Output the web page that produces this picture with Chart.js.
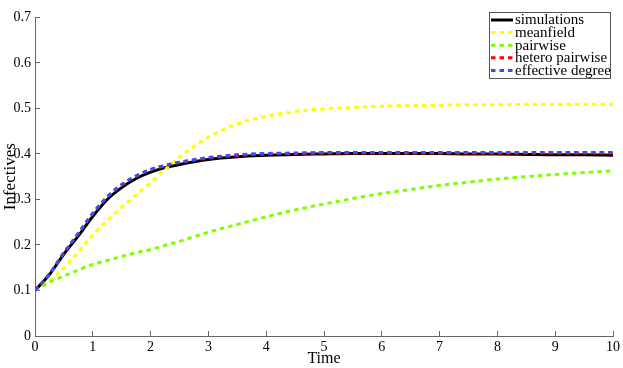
<!DOCTYPE html>
<html>
<head>
<meta charset="utf-8">
<script src="https://cdn.jsdelivr.net/npm/chart.js@4.4.0/dist/chart.umd.min.js"></script>
<style>
    html, body { margin: 0; padding: 0; background: #fff; }
    #wrap { width: 623px; height: 368px; }
</style>
</head>
<body>
<div id="wrap"><canvas id="myChart" width="623" height="368"></canvas></div>
<script>
// data
const times = [0, 0.25, 0.5, 0.75, 1, 1.25, 1.5, 1.75, 2, 2.25, 2.5, 3, 3.5, 4, 4.5, 5, 5.5, 6, 6.5, 7, 7.5, 8, 8.5, 9, 9.5, 10];
const simulations = [0.1, 0.135, 0.18, 0.22, 0.263, 0.3, 0.326, 0.346, 0.36, 0.37, 0.377, 0.388, 0.394, 0.397, 0.399, 0.4, 0.401, 0.401, 0.401, 0.401, 0.4, 0.4, 0.399, 0.398, 0.398, 0.397];
const meanfield = [0.1, 0.122, 0.15, 0.185, 0.222, 0.254, 0.283, 0.31, 0.337, 0.366, 0.393, 0.437, 0.466, 0.483, 0.493, 0.499, 0.502, 0.505, 0.506, 0.507, 0.508, 0.508, 0.509, 0.509, 0.509, 0.509];
const pairwise = [0.1, 0.118, 0.132, 0.145, 0.157, 0.166, 0.175, 0.183, 0.19, 0.199, 0.208, 0.228, 0.245, 0.262, 0.277, 0.29, 0.302, 0.313, 0.322, 0.331, 0.338, 0.345, 0.35, 0.355, 0.359, 0.363];
const heteroPairwise = [0.1, 0.136, 0.183, 0.225, 0.269, 0.305, 0.332, 0.351, 0.365, 0.374, 0.381, 0.391, 0.397, 0.4, 0.401, 0.402, 0.402, 0.402, 0.402, 0.402, 0.402, 0.402, 0.402, 0.402, 0.402, 0.402];
const effectiveDegree = [0.1, 0.136, 0.183, 0.226, 0.27, 0.306, 0.333, 0.352, 0.366, 0.375, 0.382, 0.392, 0.398, 0.401, 0.402, 0.403, 0.403, 0.403, 0.403, 0.403, 0.403, 0.403, 0.403, 0.403, 0.403, 0.403];

const names = ['simulations', 'meanfield', 'pairwise', 'hetero pairwise', 'effective degree'];
const series = [simulations, meanfield, pairwise, heteroPairwise, effectiveDegree];
const colors = ['#000000', '#ffff00', '#80ff00', '#ff0000', '#3050ff'];
const dashes = [[], [4.5, 4], [4.5, 4], [4.5, 4], [4.5, 4]];

const serif = "'Liberation Serif', 'DejaVu Serif', serif";
const axisColor = '#666';

// legend box in the top right corner
const boxLegend = {
    id: 'boxLegend',
    afterDraw(chart) {
        const ctx = chart.ctx;
        const x0 = 489, y0 = 12, w = 121, h = 66;
        ctx.save();
        ctx.fillStyle = '#fff';
        ctx.fillRect(x0, y0, w, h);
        ctx.strokeStyle = '#555';
        ctx.lineWidth = 1;
        ctx.strokeRect(x0 + 0.5, y0 + 0.5, w, h);
        ctx.font = '15px ' + serif;
        ctx.textBaseline = 'middle';
        names.forEach((n, i) => {
            const y = y0 + 8 + i * 12.6;
            ctx.beginPath();
            ctx.strokeStyle = colors[i];
            ctx.lineWidth = 3;
            ctx.setLineDash(dashes[i]);
            ctx.moveTo(491, y);
            ctx.lineTo(513, y);
            ctx.stroke();
            ctx.setLineDash([]);
            ctx.fillStyle = '#000';
            ctx.fillText(n, 515, y + 0.5);
        });
        ctx.restore();
    }
};

new Chart(document.getElementById('myChart'), {
    type: 'line',
    data: {
        datasets: names.map((n, i) => ({
            label: n,
            data: times.map((t, j) => ({x: t, y: series[i][j]})),
            borderColor: colors[i],
            borderWidth: 3,
            borderDash: dashes[i],
            borderCapStyle: 'butt',
            pointRadius: 0,
            cubicInterpolationMode: 'monotone',
            fill: false,
            order: names.length - i
        }))
    },
    options: {
        responsive: false,
        animation: false,
        layout: {padding: {top: 10, right: 10, left: 0, bottom: 0}},
        plugins: {
            legend: {display: false},
            tooltip: {enabled: false}
        },
        scales: {
            x: {
                type: 'linear',
                min: 0,
                max: 10,
                afterFit: (s) => { s.height = 32; s.paddingRight = 0; s.paddingLeft = 0; },
                ticks: {stepSize: 1, color: '#000', padding: 8, font: {family: serif, size: 14}, maxRotation: 0},
                grid: {drawOnChartArea: false, tickLength: -5, color: axisColor},
                border: {color: axisColor, width: 1},
                title: {display: true, text: 'Time', color: '#000', padding: 0, font: {family: serif, size: 16}}
            },
            y: {
                min: 0,
                max: 0.7,
                afterFit: (s) => { s.width = 35; },
                ticks: {
                    stepSize: 0.1,
                    color: '#000',
                    padding: 9,
                    font: {family: serif, size: 14},
                    callback: (v) => v === 0 ? '0' : v.toFixed(1)
                },
                grid: {drawOnChartArea: false, tickLength: -5, color: axisColor},
                border: {color: axisColor, width: 1},
                title: {display: true, text: 'Infectives', color: '#000', padding: 0, font: {family: serif, size: 17}}
            }
        }
    },
    plugins: [boxLegend]
});
</script>
</body>
</html>
